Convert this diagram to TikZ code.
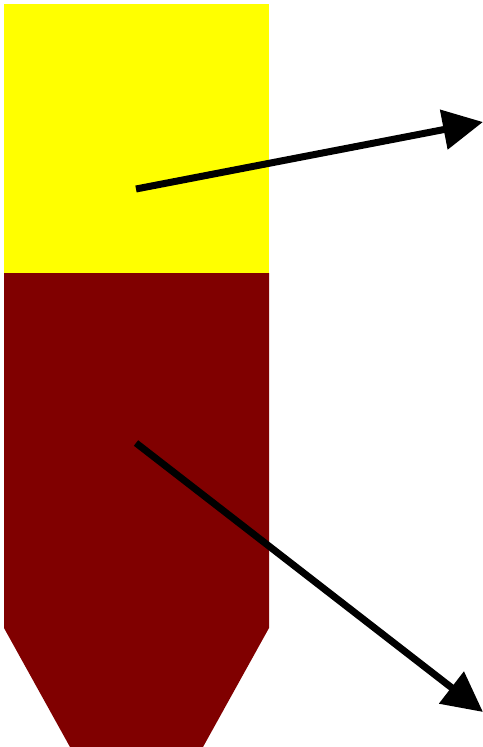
\documentclass[tikz,border=0pt]{standalone}
\usetikzlibrary{arrows.meta}
\definecolor{topyellow}{RGB}{255,255,0}
\definecolor{bodymaroon}{RGB}{128,0,0}

\begin{document}
\begin{tikzpicture}[x=0.02cm,y=-0.02cm,line join=miter,
    part/.style={draw=none},
    pointer/.style={-{Triangle[length=0.8cm,width=0.78cm]},line width=0.14cm}]
    \useasboundingbox (0,0) rectangle (483,747);

    % The yellow upper part.
    \fill[part,topyellow] (4,4) rectangle (269,273);

    % The maroon lower part with its tapered end.
    \fill[part,bodymaroon] (4,273) -- (269,273) -- (269,628) -- (203,747)
      -- (70,747) -- (4,628) -- cycle;

    % Start and end points of the two pointers.
    \coordinate (upperstart) at (136,189);
    \coordinate (upperend) at (483,122);
    \coordinate (lowerstart) at (136,443);
    \coordinate (lowerend) at (483,712);

    % The two pointers.
    \draw[pointer] (upperstart) -- (upperend);
    \draw[pointer] (lowerstart) -- (lowerend);
\end{tikzpicture}
\end{document}
